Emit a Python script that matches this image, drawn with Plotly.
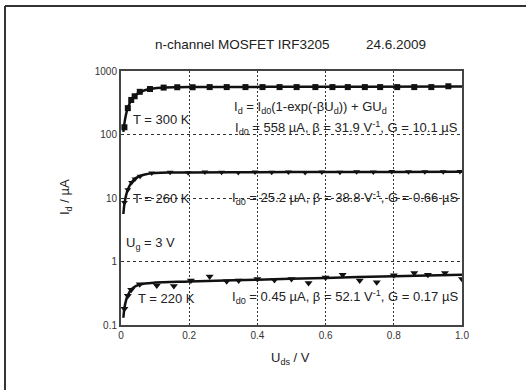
import plotly.graph_objects as go

# ---- data ----
x_ticks = [0, 0.2, 0.4, 0.6, 0.8, 1.0]
x_ticktext = ["0", "0.2", "0.4", "0.6", "0.8", "1.0"]
y_ticks = [0.1, 1, 10, 100, 1000]
y_ticktext = ["0.1", "1", "10", "100", "1000"]

# T = 300 K
fit300_x = [0.007, 0.01, 0.015, 0.02, 0.03, 0.04, 0.05, 0.06, 0.08, 0.1, 0.13, 0.16, 0.2, 0.3, 0.5, 0.7, 1.0]
fit300_y = [110, 150, 210, 263, 345, 400, 445, 475, 515, 537, 550, 555, 558, 561, 563, 565, 568]
m300_x = [0.01, 0.02, 0.03, 0.04, 0.055, 0.085, 0.125, 0.165, 0.21, 0.26, 0.31, 0.365, 0.415,
          0.465, 0.515, 0.57, 0.62, 0.665, 0.715, 0.76, 0.81, 0.86, 0.91, 0.96]
m300_y = [130, 260, 350, 400, 470, 520, 548, 555, 555, 558, 558, 558, 558,
          558, 558, 558, 558, 558, 558, 558, 558, 558, 558, 575]

# T = 260 K
fit260_x = [0.007, 0.01, 0.015, 0.02, 0.03, 0.04, 0.05, 0.07, 0.1, 0.15, 0.2, 0.4, 0.6, 0.8, 1.0]
fit260_y = [5.6, 8.1, 11.1, 13.6, 17.3, 19.9, 21.6, 23.5, 24.7, 25.2, 25.3, 25.5, 25.6, 25.7, 25.9]
m260_x = [0.01, 0.02, 0.031, 0.041, 0.056, 0.09, 0.144, 0.197, 0.246, 0.295, 0.344, 0.393, 0.442,
          0.491, 0.54, 0.589, 0.642, 0.691, 0.74, 0.794, 0.843, 0.891, 0.945, 0.994]
m260_y = [8.5, 13.5, 17.5, 20.0, 22.0, 24.8, 25.5, 25.0, 25.6, 25.4, 25.3, 25.6, 25.4,
          25.6, 25.3, 25.7, 25.5, 26.0, 25.6, 26.2, 25.8, 25.9, 25.8, 26.2]

# T = 220 K
fit220_x = [0.007, 0.01, 0.015, 0.02, 0.03, 0.04, 0.05, 0.07, 0.1, 0.2, 0.4, 0.6, 0.8, 1.0]
fit220_y = [0.13, 0.185, 0.247, 0.294, 0.36, 0.40, 0.425, 0.45, 0.465, 0.484, 0.518, 0.552, 0.586, 0.62]
m220_x = [0.01, 0.02, 0.03, 0.055, 0.105, 0.155, 0.205, 0.26, 0.31, 0.345, 0.4, 0.45, 0.5,
          0.55, 0.6, 0.65, 0.7, 0.75, 0.8, 0.86, 0.9, 0.95, 1.0]
m220_y = [0.18, 0.29, 0.36, 0.44, 0.42, 0.41, 0.50, 0.58, 0.49, 0.50, 0.53, 0.51, 0.53,
          0.46, 0.56, 0.62, 0.50, 0.47, 0.61, 0.66, 0.62, 0.66, 0.53]

INK = "#111111"
FONT = "Liberation Sans, Arial, sans-serif"

fig = go.Figure()
for fx, fy in [(fit300_x, fit300_y), (fit260_x, fit260_y), (fit220_x, fit220_y)]:
    fig.add_trace(go.Scatter(x=fx, y=fy, mode="lines", line=dict(color=INK, width=2.5),
                             line_shape="spline", showlegend=False, hoverinfo="skip"))
fig.add_trace(go.Scatter(x=m300_x, y=m300_y, mode="markers",
                         marker=dict(symbol="square", size=6, color=INK), showlegend=False))
fig.add_trace(go.Scatter(x=m260_x, y=m260_y, mode="markers",
                         marker=dict(symbol="triangle-down", size=6, color=INK), showlegend=False))
fig.add_trace(go.Scatter(x=m220_x, y=m220_y, mode="markers",
                         marker=dict(symbol="triangle-down", size=7, color=INK), showlegend=False))

fig.update_xaxes(range=[0, 1], tickvals=x_ticks, ticktext=x_ticktext,
                 showgrid=True, gridcolor="#333333", griddash="2px,2px", gridwidth=1.3,
                 showline=True, linecolor="#444444", linewidth=2, mirror=True,
                 ticks="", zeroline=False,
                 tickfont=dict(family=FONT, size=10, color="#333333"))
fig.update_yaxes(type="log", range=[-1, 3], tickvals=y_ticks, ticktext=y_ticktext,
                 showgrid=True, gridcolor="#333333", griddash="3px,3px", gridwidth=1.2,
                 showline=True, linecolor="#444444", linewidth=2, mirror=True,
                 ticks="", zeroline=False,
                 tickfont=dict(family=FONT, size=10, color="#333333"))

ann = []
def A(text, x, y, size=13, xanchor="left", xref="x", yref="y", angle=0, yanchor="middle"):
    ann.append(dict(text=text, x=x, y=y, xref=xref, yref=yref, showarrow=False,
                    xanchor=xanchor, yanchor=yanchor, textangle=angle,
                    font=dict(family=FONT, size=size, color="#222222")))

A("I<sub>d</sub> = I<sub>d0</sub>(1-exp(-βU<sub>d</sub>)) + GU<sub>d</sub>", 0.555, 2.43, xanchor="center")
A("T = 300 K", 0.03, 2.24)
A("I<sub>d0</sub> = 558 µA, β = 31.9 V<sup>-1</sup>, G = 10.1 µS", 0.995, 2.1, xanchor="right")
A("T = 260 K", 0.03, 1.0)
A("I<sub>d0</sub> = 25.2 µA, β = 38.8 V<sup>-1</sup>, G = 0.66 µS", 0.995, 1.0, xanchor="right")
A("U<sub>g</sub> = 3 V", 0.01, 0.28)
A("T = 220 K", 0.045, -0.58)
A("I<sub>d0</sub> = 0.45 µA, β = 52.1 V<sup>-1</sup>, G = 0.17 µS", 0.995, -0.56, xanchor="right")

# titles (paper coords relative to plot area: x 121..462, y 71..325 px)
A("n-channel MOSFET IRF3205", (242 - 121) / 341, (325 - 45) / 254, size=13.5, xanchor="center", xref="paper", yref="paper")
A("24.6.2009", (396 - 121) / 341, (325 - 45) / 254, size=13.5, xanchor="center", xref="paper", yref="paper")
A("I<sub>d</sub> / µA", (65 - 121) / 341, (325 - 197) / 254, xanchor="center", xref="paper", yref="paper", angle=-90)
A("U<sub>ds</sub> / V", (290 - 121) / 341, (325 - 358) / 254, xanchor="center", xref="paper", yref="paper")

shapes = [
    dict(type="line", xref="paper", yref="paper", x0=(5 - 121) / 341, x1=(530 - 121) / 341,
         y0=(325 - 6) / 254, y1=(325 - 6) / 254, line=dict(color="#333333", width=2)),
    dict(type="line", xref="paper", yref="paper", x0=(5 - 121) / 341, x1=(5 - 121) / 341,
         y0=(325 - 6) / 254, y1=(325 - 395) / 254, line=dict(color="#333333", width=2)),
]

fig.update_layout(width=526, height=390, margin=dict(l=121, r=64, t=71, b=65),
                  plot_bgcolor="white", paper_bgcolor="white",
                  annotations=ann, shapes=shapes, showlegend=False)

fig.write_html("out.html")
